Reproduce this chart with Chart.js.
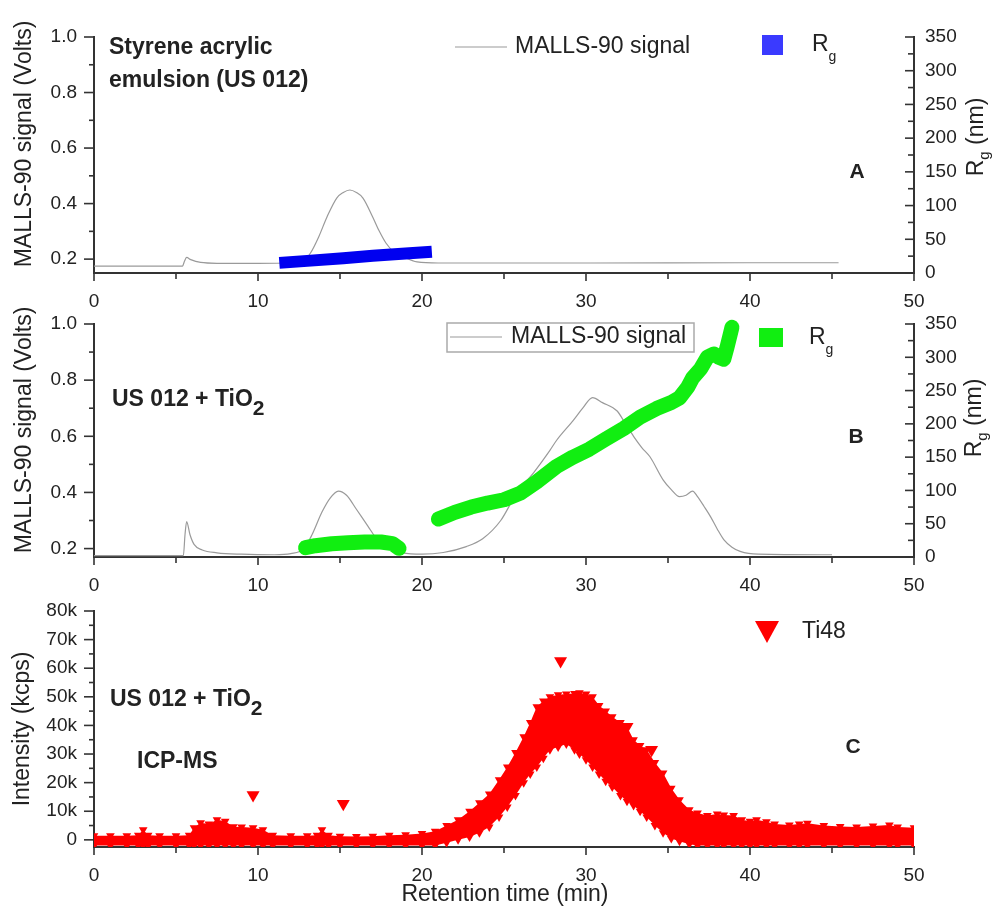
<!DOCTYPE html>
<html>
<head>
<meta charset="utf-8">
<script src="https://cdn.jsdelivr.net/npm/chart.js@4/dist/chart.umd.min.js"></script>
<style>
  body { margin: 0; background: #fff; }
  #wrap { position: relative; width: 994px; height: 906px; }
  canvas { position: absolute; left: 0; top: 0; }
</style>
</head>
<body>
<div id="wrap">
  <canvas id="chartA" width="994" height="906"></canvas>
  <canvas id="chartB" width="994" height="906"></canvas>
  <canvas id="chartC" width="994" height="906"></canvas>
</div>
<script>
// panel A - styrene acrylic emulsion (MALLS)
const timeA = [0, 5.4, 5.5, 5.65, 5.9, 6.5, 7.5, 10, 12, 12.8, 13.2, 13.7, 14.2, 14.8, 15.2, 15.6, 16.0, 16.4, 17.0, 17.4,
  17.8, 18.3, 18.9, 19.7, 21, 30, 40, 45.4];
const signalA = [0.175, 0.175, 0.19, 0.206, 0.198, 0.188, 0.185, 0.185, 0.186, 0.195, 0.222, 0.28, 0.351, 0.42, 0.44, 0.449, 0.44, 0.42, 0.351, 0.30,
  0.258, 0.225, 0.207, 0.19, 0.186, 0.186, 0.187, 0.187];
const rgTimeA = [11.3, 13, 15.2, 17, 19, 20.6];
const rgA = [15, 18, 22, 25.5, 29, 31.6];

// panel B - US 012 + TiO2 (MALLS)
const timeB = [0, 5.45, 5.55, 5.65, 5.85, 6.1, 6.6, 7.5, 9, 11, 12, 12.8, 13.3, 13.9, 14.4, 14.9, 15.4, 16, 16.7, 17.3,
  18, 18.8, 20, 21.3, 22.7, 23.7, 24.8, 25.8, 26.8, 27.8, 28.2, 29.2, 29.8, 30.4, 31, 31.9, 32.4, 32.9, 33.4, 33.9,
  34.7, 35.2, 35.7, 36.1, 36.5, 36.8, 37.2, 37.6, 38, 38.4, 38.9, 39.4, 40.5, 45];
const signalB = [0.175, 0.175, 0.25, 0.296, 0.25, 0.215, 0.195, 0.185, 0.18, 0.178, 0.182, 0.2, 0.25, 0.33, 0.38, 0.405, 0.39, 0.34, 0.28, 0.23,
  0.2, 0.185, 0.18, 0.186, 0.207, 0.235, 0.30, 0.40, 0.47, 0.55, 0.585, 0.655, 0.70, 0.738, 0.72, 0.69, 0.645, 0.60, 0.56, 0.527,
  0.445, 0.41, 0.385, 0.39, 0.405, 0.385, 0.35, 0.313, 0.27, 0.232, 0.205, 0.19, 0.18, 0.178];
const rgTimeB = [12.9, 13.5, 14.5, 15.5, 16.5, 17.5, 18.2, 18.6, 19.8, 21, 22, 23, 24, 25, 26, 27, 28.2, 29.2, 30.2,
  31.2, 32.3, 33.3, 34.3, 35.2, 35.7, 36.2, 36.5, 37, 37.4, 37.8, 38.1, 38.4, 38.6, 38.8, 38.9];
const rgB = [14, 17, 20, 21.5, 22.5, 22.5, 20, 13, null, 57, 67, 75, 81, 86, 96, 113, 136, 150, 162,
  177, 193, 210, 223, 232, 239, 255, 269, 283, 300, 305, 300, 297, 315, 335, 345];

// panel C - ICP-MS Ti48 (kcps), upper and lower edge of the scattered band
const timeC = [0, 1, 2, 2.7, 3.0, 3.3, 4, 5, 5.8, 6.1, 6.5, 7, 7.5, 8, 8.5, 9, 9.7, 10.3, 10.9, 12,
  13, 13.6, 13.9, 14.3, 15, 16, 17, 18, 19, 20, 20.8, 21.5, 22.2, 22.9, 23.5, 24.1, 24.7, 25.2, 25.7, 26.2,
  26.6, 27, 27.4, 27.8, 28.3, 28.8, 29.3, 29.6, 30, 30.4, 30.8, 31.2, 31.6, 32.1, 32.5, 32.9, 33.3, 33.7, 34.2, 34.7,
  35.2, 35.7, 36.3, 36.8, 37.4, 38, 38.4, 39, 39.5, 40, 40.4, 41, 41.5, 42.4, 43, 43.5, 44.5, 45.5, 46.5, 47.5,
  48.5, 49, 50];
const upperC = [1.4, 1.4, 1.4, 1.6, 3.5, 1.6, 1.4, 1.4, 1.6, 4.2, 6, 5.5, 7, 6.5, 4.6, 4.5, 4.2, 3.5, 1.6, 1.4,
  1.4, 1.6, 3.5, 1.6, 1.3, 1.2, 1.3, 1.6, 1.8, 2.2, 3, 5, 7, 10, 13, 16, 21, 25.5, 30.5, 36,
  41, 46.5, 48.5, 50, 50.7, 51, 51.2, 51.4, 51, 50, 47, 45, 43, 41, 39.5, 35, 33, 31.5, 27, 23.4,
  18, 14, 10.5, 9.4, 8.5, 9, 8.7, 8.5, 7, 6.5, 7, 6.3, 5.5, 5.2, 5.5, 5.8, 5, 4.7, 4.5, 4.8,
  5.2, 4.5, 4.2];
const lowerC = [-2, -2, -2, -2, -2, -2, -2, -2, -2, -2, -2, -2, -2, -2, -2, -2, -2, -2, -2, -2,
  -2, -2, -2, -2, -2, -2, -2, -2, -2, -2, -2, -1, 0, 1, 2.5, 4.5, 8, 11.5, 15.5, 20,
  23, 25.5, 28.5, 31.5, 32.5, 33.5, 31.5, 30, 28, 25.5, 23, 20.5, 18.5, 15.5, 13.5, 12, 10, 8, 5, 2.5,
  0.5, -0.5, -1.5, -2, -2, -2, -2, -2, -2, -2, -2, -2, -2, -2, -2, -2, -2, -2, -2, -2,
  -2, -2, -2];
const outTimeC = [9.7, 15.2, 28.45, 32.5, 34.0];
const outC = [15.7, 12.6, 62.5, 39.5, 31.5];

const FAM = '"Liberation Sans", Arial, sans-serif';
const GRAY = '#9a9a9a';
const BLUE = '#0000f0';
const GREEN = '#11ee11';
const RED = '#ff0000';
Chart.defaults.font.family = FAM;
Chart.defaults.color = '#222';

const pts = (xs, ys) => xs.map((x, i) => ({ x: x, y: ys[i] }));
const tickFont = { size: 19 };
const borderOpts = { color: '#333', width: 2 };
const noGrid = { display: false, drawTicks: false };

function xAxis(h) {
  return {
    type: 'linear', position: 'bottom', min: 0, max: 50,
    ticks: { stepSize: 10, padding: 17, font: tickFont, maxRotation: 0, autoSkip: false },
    grid: noGrid, border: borderOpts,
    afterFit: s => { s.height = h; }
  };
}
function leftAxis(min, max, step, cb) {
  return {
    type: 'linear', position: 'left', min: min, max: max,
    ticks: { stepSize: step, includeBounds: false, padding: 17, font: tickFont, callback: cb, autoSkip: false },
    grid: noGrid, border: borderOpts,
    afterFit: s => { s.width = 94; }
  };
}
function rightAxis() {
  return {
    type: 'linear', position: 'right', min: 0, max: 350,
    ticks: { stepSize: 50, padding: 11, font: tickFont, autoSkip: false },
    grid: noGrid, border: borderOpts,
    afterFit: s => { s.width = 80; }
  };
}

// major + minor tick marks, drawn on the scales
function drawTicks(chart) {
  const ctx = chart.ctx;
  ctx.save();
  ctx.strokeStyle = '#333';
  ctx.lineWidth = 1.6;
  Object.values(chart.scales).forEach(s => {
    const vals = s.ticks.map(t => t.value);
    const step = vals[1] - vals[0];
    const start = vals[0] - step / 2;
    for (let i = 0; i < 200; i++) {
      const v = start + i * step / 2;
      if (v > s.max + 1e-9) break;
      if (v < s.min - 1e-9) continue;
      const major = i % 2 === 1;
      const p = s.getPixelForValue(v);
      ctx.beginPath();
      if (s.axis === 'x') {
        ctx.moveTo(p, s.top); ctx.lineTo(p, s.top + (major ? 8 : 6));
      } else if (s.position === 'left') {
        ctx.moveTo(s.right, p); ctx.lineTo(s.right - (major ? 10 : 5), p);
      } else {
        ctx.moveTo(s.left, p); ctx.lineTo(s.left - (major ? 9 : 6), p);
      }
      ctx.stroke();
    }
  });
  ctx.restore();
}

// text made of runs (for subscripts), optional rotation
function runs(ctx, list, x, y, align, rot) {
  ctx.save();
  ctx.translate(x, y);
  if (rot) ctx.rotate(rot);
  let w = 0;
  list.forEach(r => { ctx.font = r.font; w += ctx.measureText(r.t).width; });
  let cx = align === 'center' ? -w / 2 : 0;
  ctx.textBaseline = 'middle';
  ctx.textAlign = 'left';
  ctx.fillStyle = '#222';
  list.forEach(r => {
    ctx.font = r.font;
    ctx.fillText(r.t, cx, r.dy || 0);
    cx += ctx.measureText(r.t).width;
  });
  ctx.restore();
}
const F = (size, bold) => (bold ? 'bold ' : '') + size + 'px ' + FAM;
const UP = -Math.PI / 2;

function rgTitle(ctx, x, y) {
  runs(ctx, [{ t: 'R', font: F(23) }, { t: 'g', font: F(15), dy: 8 }, { t: ' (nm)', font: F(23) }], x, y, 'center', UP);
}
function rgLegend(ctx, color, sqX, sqY, w, h, tx, ty) {
  ctx.fillStyle = color;
  ctx.fillRect(sqX, sqY, w, h);
  runs(ctx, [{ t: 'R', font: F(23) }, { t: 'g', font: F(14), dy: 12 }], tx, ty, 'left');
}
function grayLine(ctx, x1, x2, y) {
  ctx.save();
  ctx.strokeStyle = GRAY;
  ctx.lineWidth = 1.2;
  ctx.beginPath(); ctx.moveTo(x1, y); ctx.lineTo(x2, y); ctx.stroke();
  ctx.restore();
}

const decorA = {
  id: 'decorA',
  afterDraw(chart) {
    const ctx = chart.ctx;
    drawTicks(chart);
    runs(ctx, [{ t: 'MALLS-90 signal (Volts)', font: F(23) }], 25, 144, 'center', UP);
    rgTitle(ctx, 977, 137);
    runs(ctx, [{ t: 'Styrene acrylic', font: F(23, true) }], 109, 48, 'left');
    runs(ctx, [{ t: 'emulsion (US 012)', font: F(23, true) }], 109, 81, 'left');
    grayLine(ctx, 455, 507, 47);
    runs(ctx, [{ t: 'MALLS-90 signal', font: F(23) }], 515, 47, 'left');
    rgLegend(ctx, '#3a3aff', 762, 35, 21, 20, 812, 45);
    runs(ctx, [{ t: 'A', font: F(21, true) }], 857, 172, 'center');
  }
};

const decorB = {
  id: 'decorB',
  afterDraw(chart) {
    const ctx = chart.ctx;
    drawTicks(chart);
    runs(ctx, [{ t: 'MALLS-90 signal (Volts)', font: F(23) }], 25, 430, 'center', UP);
    rgTitle(ctx, 975, 418);
    ctx.save();
    ctx.strokeStyle = '#aaa';
    ctx.lineWidth = 1.5;
    ctx.strokeRect(447, 323, 247, 29);
    ctx.restore();
    grayLine(ctx, 450, 502, 337);
    runs(ctx, [{ t: 'MALLS-90 signal', font: F(23) }], 511, 337, 'left');
    rgLegend(ctx, GREEN, 759, 328, 24, 19, 809, 338);
    runs(ctx, [{ t: 'B', font: F(21, true) }], 856, 437, 'center');
    runs(ctx, [{ t: 'US 012 + TiO', font: F(23, true) }, { t: '2', font: F(21, true), dy: 9 }], 112, 400, 'left');
  }
};

const decorC = {
  id: 'decorC',
  afterDraw(chart) {
    const ctx = chart.ctx;
    drawTicks(chart);
    runs(ctx, [{ t: 'Intensity (kcps)', font: F(23) }], 23, 729, 'center', UP);
    runs(ctx, [{ t: 'Retention time (min)', font: F(23) }], 505, 895, 'center');
    runs(ctx, [{ t: 'US 012 + TiO', font: F(23, true) }, { t: '2', font: F(21, true), dy: 9 }], 110, 700, 'left');
    runs(ctx, [{ t: 'ICP-MS', font: F(23, true) }], 137, 762, 'left');
    ctx.fillStyle = RED;
    ctx.beginPath();
    ctx.moveTo(755, 621); ctx.lineTo(779, 621); ctx.lineTo(767, 643); ctx.closePath();
    ctx.fill();
    runs(ctx, [{ t: 'Ti48', font: F(23) }], 802, 632, 'left');
    runs(ctx, [{ t: 'C', font: F(21, true) }], 853, 747, 'center');
  }
};

// each chart fills the whole page; padding places its plot band
const baseOpts = (padTop, padRight, padBottom) => ({
  responsive: false,
  animation: false,
  events: [],
  layout: { padding: { top: padTop, right: padRight, left: 0, bottom: padBottom }, autoPadding: false },
  plugins: { legend: { display: false }, tooltip: { enabled: false } }
});

new Chart(document.getElementById('chartA'), {
  type: 'line',
  data: {
    datasets: [
      { label: 'Rg', data: pts(rgTimeA, rgA), yAxisID: 'yR', borderColor: BLUE, borderWidth: 12,
        borderCapStyle: 'butt', pointRadius: 0, order: 0 },
      { label: 'MALLS-90 signal', data: pts(timeA, signalA), yAxisID: 'yL', borderColor: GRAY, borderWidth: 1.2,
        pointRadius: 0, cubicInterpolationMode: 'monotone', order: 1 }
    ]
  },
  options: Object.assign(baseOpts(37, 0, 586), {
    scales: {
      x: xAxis(47),
      yL: leftAxis(0.15, 1.0, 0.2, v => v.toFixed(1)),
      yR: rightAxis()
    }
  }),
  plugins: [decorA]
});

new Chart(document.getElementById('chartB'), {
  type: 'line',
  data: {
    datasets: [
      { label: 'Rg', data: pts(rgTimeB, rgB), yAxisID: 'yR', borderColor: GREEN, borderWidth: 15,
        borderCapStyle: 'round', borderJoinStyle: 'round', pointRadius: 0, spanGaps: false, order: 0, clip: false },
      { label: 'MALLS-90 signal', data: pts(timeB, signalB), yAxisID: 'yL', borderColor: GRAY, borderWidth: 1.2,
        pointRadius: 0, cubicInterpolationMode: 'monotone', order: 1 }
    ]
  },
  options: Object.assign(baseOpts(324, 0, 304), {
    scales: {
      x: xAxis(45),
      yL: leftAxis(0.17, 1.0, 0.2, v => v.toFixed(1)),
      yR: rightAxis()
    }
  }),
  plugins: [decorB]
});

const tri = { pointStyle: 'triangle', rotation: 180, pointBackgroundColor: RED, pointBorderWidth: 0 };
new Chart(document.getElementById('chartC'), {
  type: 'line',
  data: {
    datasets: [
      Object.assign({ label: 'Ti48', data: pts(outTimeC, outC), showLine: false, pointRadius: 7.5, clip: 0 }, tri),
      Object.assign({ label: 'Ti48 upper', data: pts(timeC, upperC), borderWidth: 0, borderColor: RED,
        backgroundColor: RED, fill: '+1', pointRadius: 5, clip: 0 }, tri),
      Object.assign({ label: 'Ti48 lower', data: pts(timeC, lowerC), borderWidth: 0, borderColor: RED,
        backgroundColor: RED, fill: false, pointRadius: 5, clip: 0 }, tri)
    ]
  },
  options: Object.assign(baseOpts(611, 80, 0), {
    scales: {
      x: xAxis(59),
      y: leftAxis(-2.5, 80, 10, v => v === 0 ? '0' : v + 'k')
    }
  }),
  plugins: [decorC]
});
</script>
</body>
</html>
